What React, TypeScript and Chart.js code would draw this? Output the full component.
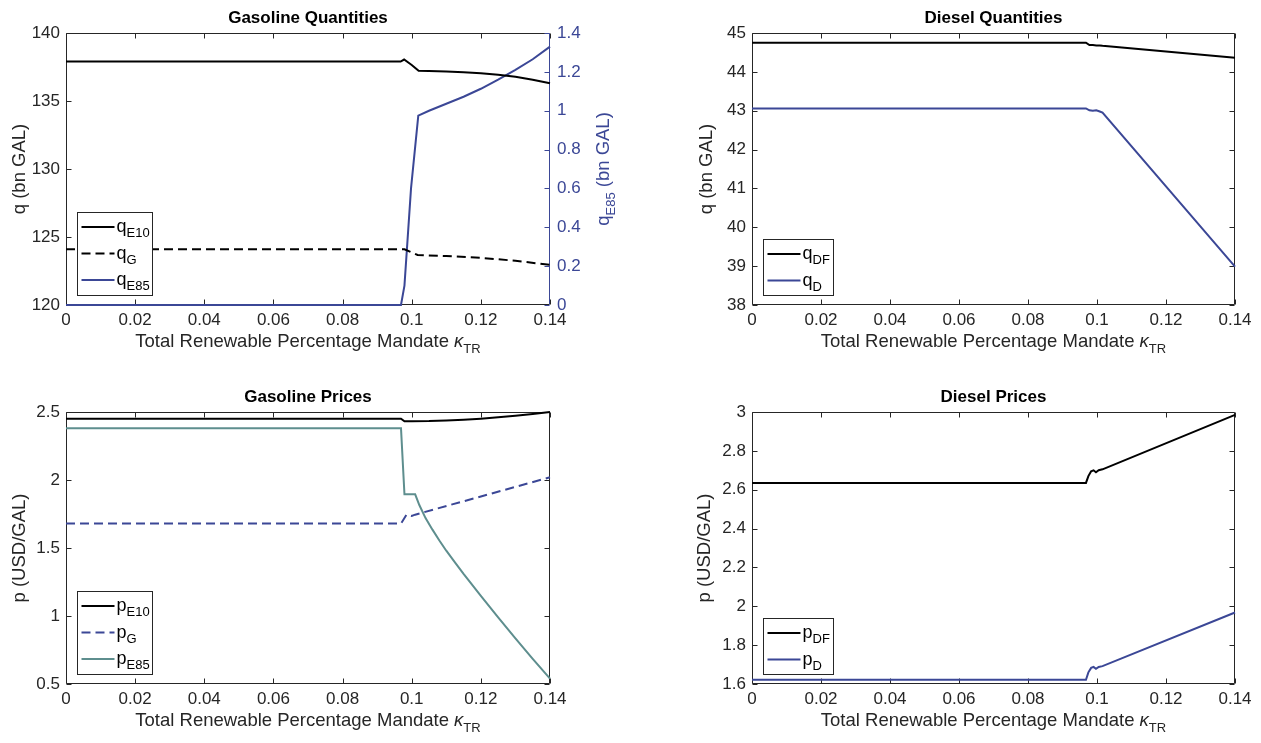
import React, { useEffect, useRef } from "react";
import { Chart, registerables } from "chart.js";

Chart.register(...registerables);

const FONT = '"Liberation Sans", Arial, Helvetica, sans-serif';
const AX = "#262626";
const BLUE = "#3B4796";
const TEAL = "#5E8E8E";
const BLACK = "#000000";
const TICK = 17;
const LABEL = 18.5;
const TITLE = 17;

// ---------- shared x ticks ----------
const kappaTicks = [0, 0.02, 0.04, 0.06, 0.08, 0.1, 0.12, 0.14];

// ---------- Gasoline quantities ----------
const gqTicks = [120, 125, 130, 135, 140];
const gqTicksE85 = [0, 0.2, 0.4, 0.6, 0.8, 1, 1.2, 1.4];
const gqKappaE10 = [0, 0.0968, 0.0978, 0.1, 0.102, 0.105, 0.11, 0.115, 0.12, 0.125, 0.13, 0.135, 0.14];
const qE10 = [137.9, 137.9, 138.05, 137.65, 137.22, 137.2, 137.17, 137.12, 137.04, 136.93, 136.78, 136.57, 136.3];
const gqKappaG = [0, 0.0979, 0.1017, 0.11, 0.12, 0.13, 0.14];
const qG = [124.1, 124.1, 123.68, 123.6, 123.47, 123.25, 122.95];
const gqKappaE85 = [0, 0.0969, 0.0979, 0.0998, 0.1019, 0.105, 0.11, 0.115, 0.12, 0.125, 0.13, 0.135, 0.14];
const qE85 = [0, 0, 0.1, 0.6, 0.975, 1.0, 1.036, 1.072, 1.113, 1.16, 1.21, 1.265, 1.33];

// ---------- Diesel quantities ----------
const dqTicks = [38, 39, 40, 41, 42, 43, 44, 45];
const dqKappa = [0, 0.0968, 0.0978, 0.0988, 0.0998, 0.1008, 0.1016, 0.14];
const qDF = [44.75, 44.75, 44.69, 44.69, 44.68, 44.68, 44.67, 44.36];
const qD = [43.06, 43.06, 43.01, 43.0, 43.01, 42.98, 42.95, 38.99];

// ---------- Gasoline prices ----------
const gpTicks = [0.5, 1, 1.5, 2, 2.5];
const gpKappaE10 = [0, 0.0969, 0.0979, 0.1, 0.105, 0.11, 0.115, 0.12, 0.125, 0.13, 0.135, 0.14];
const pE10 = [2.45, 2.45, 2.432, 2.432, 2.433, 2.437, 2.443, 2.451, 2.461, 2.472, 2.485, 2.5];
const gpKappaG = [0, 0.0969, 0.0985, 0.1, 0.101, 0.14];
const pG = [1.68, 1.68, 1.745, 1.735, 1.745, 2.02];
const gpKappaE85 = [0, 0.0969, 0.0979, 0.101, 0.1022, 0.104, 0.106, 0.108, 0.11, 0.1125, 0.115, 0.12, 0.125, 0.13, 0.135, 0.14];
const pE85 = [2.38, 2.38, 1.895, 1.895, 1.816, 1.72, 1.635, 1.555, 1.48, 1.395, 1.31, 1.148, 0.99, 0.835, 0.685, 0.54];

// ---------- Diesel prices ----------
const dpTicks = [1.6, 1.8, 2, 2.2, 2.4, 2.6, 2.8, 3];
const dpKappa = [0, 0.0968, 0.0975, 0.0983, 0.099, 0.0997, 0.1005, 0.1016, 0.14];
const pDF = [2.635, 2.635, 2.67, 2.695, 2.7, 2.69, 2.7, 2.705, 2.985];
const pD = [1.622, 1.622, 1.66, 1.683, 1.688, 1.678, 1.688, 1.692, 1.968];

type Seg = { text: string; sub?: boolean; italic?: boolean };
type Series = { label: Seg[]; xs: number[]; ys: number[]; color: string; dash?: number[]; axis?: string };
type Spec = {
  left: number; top: number; w: number; h: number;
  plot: { l: number; t: number; r: number; b: number };
  title: string;
  yLabel: Seg[]; yLabelX: number;
  y2Label?: Seg[]; y2LabelX?: number;
  yMin: number; yMax: number; yTicks: number[];
  y2Min?: number; y2Max?: number; y2Ticks?: number[];
  series: Series[];
  legendW: number;
};

const xTitle: Seg[] = [{ text: "Total Renewable Percentage Mandate " }, { text: "\u03BA", italic: true }, { text: "TR", sub: true }];

const fmt = (v: number) => String(Math.round(v * 1000) / 1000);

const segFont = (s: Seg, size: number, sub: number, bold: boolean) =>
  `${s.italic ? "italic " : ""}${bold ? "bold " : ""}${s.sub ? sub : size}px ${FONT}`;

function richWidth(ctx: CanvasRenderingContext2D, segs: Seg[], size: number, sub: number, bold = false) {
  let w = 0;
  for (const s of segs) {
    ctx.font = segFont(s, size, sub, bold);
    w += ctx.measureText(s.text).width;
  }
  return w;
}

function drawRich(ctx: CanvasRenderingContext2D, segs: Seg[], x: number, y: number, align: string, size: number, sub: number, color: string, bold = false) {
  const total = richWidth(ctx, segs, size, sub, bold);
  let cx = align === "center" ? x - total / 2 : x;
  ctx.fillStyle = color;
  ctx.textAlign = "left";
  ctx.textBaseline = "alphabetic";
  for (const s of segs) {
    ctx.font = segFont(s, size, sub, bold);
    ctx.fillText(s.text, cx, y + (s.sub ? size * 0.3 : 0));
    cx += ctx.measureText(s.text).width;
  }
}

function makePlugin(spec: Spec) {
  const hasY2 = !!spec.y2Ticks;
  return {
    id: "matlabFrame",
    beforeDatasetsDraw(chart: any) {
      const ctx: CanvasRenderingContext2D = chart.ctx;
      const a = chart.chartArea;
      const L = Math.round(a.left) + 0.5, R = Math.round(a.right) - 0.5;
      const T = Math.round(a.top) + 0.5, B = Math.round(a.bottom) - 0.5;
      ctx.save();
      ctx.lineWidth = 1;
      ctx.strokeStyle = AX;
      ctx.beginPath();
      ctx.moveTo(R, T); ctx.lineTo(L, T); ctx.lineTo(L, B); ctx.lineTo(R, B);
      if (!hasY2) ctx.lineTo(R, T);
      ctx.stroke();
      const tl = 5;
      const xs = chart.scales.x;
      ctx.beginPath();
      for (const v of kappaTicks) {
        const px = Math.round(xs.getPixelForValue(v)) + 0.5;
        ctx.moveTo(px, B); ctx.lineTo(px, B - tl);
        ctx.moveTo(px, T); ctx.lineTo(px, T + tl);
      }
      const ys = chart.scales.y;
      for (const v of spec.yTicks) {
        const py = Math.round(ys.getPixelForValue(v)) + 0.5;
        ctx.moveTo(L, py); ctx.lineTo(L + tl, py);
        if (!hasY2) { ctx.moveTo(R, py); ctx.lineTo(R - tl, py); }
      }
      ctx.stroke();
      if (hasY2) {
        const y2 = chart.scales.y2;
        ctx.strokeStyle = BLUE;
        ctx.beginPath();
        ctx.moveTo(R, T); ctx.lineTo(R, B);
        for (const v of spec.y2Ticks!) {
          const py = Math.round(y2.getPixelForValue(v)) + 0.5;
          ctx.moveTo(R, py); ctx.lineTo(R - tl, py);
        }
        ctx.stroke();
      }
      ctx.restore();
    },
    afterDraw(chart: any) {
      const ctx: CanvasRenderingContext2D = chart.ctx;
      const a = chart.chartArea;
      const cx = (a.left + a.right) / 2;
      const cy = (a.top + a.bottom) / 2;
      ctx.save();
      drawRich(ctx, [{ text: spec.title }], cx, a.top - 10, "center", TITLE, TITLE, BLACK, true);
      drawRich(ctx, xTitle, cx, a.bottom + 42, "center", LABEL, 13, AX);
      ctx.save();
      ctx.translate(spec.yLabelX - spec.left, cy);
      ctx.rotate(-Math.PI / 2);
      drawRich(ctx, spec.yLabel, 0, 6, "center", LABEL, 13, AX);
      ctx.restore();
      if (spec.y2Label) {
        ctx.save();
        ctx.translate(spec.y2LabelX! - spec.left, cy);
        ctx.rotate(-Math.PI / 2);
        drawRich(ctx, spec.y2Label, 0, 6, "center", LABEL, 13, BLUE);
        ctx.restore();
      }
      const n = spec.series.length;
      const bh = 27 * n + 2;
      const bx = Math.round(a.left + 11) + 0.5;
      const by = Math.round(a.bottom - 10 - bh) + 0.5;
      ctx.fillStyle = "#ffffff";
      ctx.fillRect(bx, by, spec.legendW, bh);
      ctx.strokeStyle = AX;
      ctx.lineWidth = 1;
      ctx.strokeRect(bx, by, spec.legendW, bh);
      spec.series.forEach((s, i) => {
        const ry = by + 14.5 + 26.5 * i;
        ctx.save();
        ctx.strokeStyle = s.color;
        ctx.lineWidth = 2;
        ctx.setLineDash(s.dash || []);
        ctx.beginPath();
        ctx.moveTo(bx + 4, ry); ctx.lineTo(bx + 37, ry);
        ctx.stroke();
        ctx.restore();
        drawRich(ctx, s.label, bx + 39, ry + 5, "left", 18, 13, BLACK);
      });
      ctx.restore();
    },
  };
}

function buildConfig(spec: Spec): any {
  const hasY2 = !!spec.y2Ticks;
  const tickFont = { family: FONT, size: TICK };
  const scales: any = {
    x: {
      type: "linear", position: "bottom", min: 0, max: 0.14,
      grid: { display: false, drawTicks: false }, border: { display: false },
      ticks: { font: tickFont, color: AX, padding: 5, maxRotation: 0, autoSkip: false, callback: (v: number) => fmt(v) },
      afterBuildTicks: (s: any) => { s.ticks = kappaTicks.map((v) => ({ value: v })); },
      afterFit: (s: any) => { s.height = spec.top + spec.h - spec.plot.b; },
    },
    y: {
      type: "linear", position: "left", min: spec.yMin, max: spec.yMax,
      grid: { display: false, drawTicks: false }, border: { display: false },
      ticks: { font: tickFont, color: AX, padding: 6, autoSkip: false, callback: (v: number) => fmt(v) },
      afterBuildTicks: (s: any) => { s.ticks = spec.yTicks.map((v) => ({ value: v })); },
      afterFit: (s: any) => { s.width = spec.plot.l - spec.left; },
    },
  };
  if (hasY2) {
    scales.y2 = {
      type: "linear", position: "right", min: spec.y2Min, max: spec.y2Max,
      grid: { display: false, drawTicks: false }, border: { display: false },
      ticks: { font: tickFont, color: BLUE, padding: 7, autoSkip: false, callback: (v: number) => fmt(v) },
      afterBuildTicks: (s: any) => { s.ticks = spec.y2Ticks!.map((v) => ({ value: v })); },
      afterFit: (s: any) => { s.width = spec.left + spec.w - spec.plot.r; },
    };
  }
  return {
    type: "line",
    data: {
      datasets: spec.series.map((s) => ({
        label: s.label.map((x) => x.text).join(""),
        data: s.xs.map((x, i) => ({ x, y: s.ys[i] })),
        borderColor: s.color,
        backgroundColor: s.color,
        borderWidth: 2,
        borderDash: s.dash || [],
        pointRadius: 0,
        tension: 0,
        fill: false,
        clip: false,
        yAxisID: s.axis || "y",
      })),
    },
    options: {
      responsive: false,
      maintainAspectRatio: false,
      animation: false,
      devicePixelRatio: 1,
      events: [],
      layout: {
        padding: {
          left: 0,
          top: spec.plot.t - spec.top,
          right: hasY2 ? 0 : spec.left + spec.w - spec.plot.r,
          bottom: 0,
        },
      },
      plugins: { legend: { display: false }, tooltip: { enabled: false }, title: { display: false } },
      scales,
    },
    plugins: [makePlugin(spec)],
  };
}

const DASH = [9, 5];

const specs: Spec[] = [
  {
    left: 0, top: 0, w: 630, h: 372,
    plot: { l: 66, t: 33, r: 550, b: 305 },
    title: "Gasoline Quantities",
    yLabel: [{ text: "q (bn GAL)" }], yLabelX: 19,
    y2Label: [{ text: "q" }, { text: "E85", sub: true }, { text: " (bn GAL)" }], y2LabelX: 603,
    yMin: 120, yMax: 140, yTicks: gqTicks,
    y2Min: 0, y2Max: 1.4, y2Ticks: gqTicksE85,
    legendW: 75,
    series: [
      { label: [{ text: "q" }, { text: "E10", sub: true }], xs: gqKappaE10, ys: qE10, color: BLACK },
      { label: [{ text: "q" }, { text: "G", sub: true }], xs: gqKappaG, ys: qG, color: BLACK, dash: DASH },
      { label: [{ text: "q" }, { text: "E85", sub: true }], xs: gqKappaE85, ys: qE85, color: BLUE, axis: "y2" },
    ],
  },
  {
    left: 630, top: 0, w: 631, h: 372,
    plot: { l: 752, t: 33, r: 1235, b: 305 },
    title: "Diesel Quantities",
    yLabel: [{ text: "q (bn GAL)" }], yLabelX: 706,
    yMin: 38, yMax: 45, yTicks: dqTicks,
    legendW: 70,
    series: [
      { label: [{ text: "q" }, { text: "DF", sub: true }], xs: dqKappa, ys: qDF, color: BLACK },
      { label: [{ text: "q" }, { text: "D", sub: true }], xs: dqKappa, ys: qD, color: BLUE },
    ],
  },
  {
    left: 0, top: 372, w: 630, h: 371,
    plot: { l: 66, t: 412, r: 550, b: 684 },
    title: "Gasoline Prices",
    yLabel: [{ text: "p (USD/GAL)" }], yLabelX: 19,
    yMin: 0.5, yMax: 2.5, yTicks: gpTicks,
    legendW: 75,
    series: [
      { label: [{ text: "p" }, { text: "E10", sub: true }], xs: gpKappaE10, ys: pE10, color: BLACK },
      { label: [{ text: "p" }, { text: "G", sub: true }], xs: gpKappaG, ys: pG, color: BLUE, dash: DASH },
      { label: [{ text: "p" }, { text: "E85", sub: true }], xs: gpKappaE85, ys: pE85, color: TEAL },
    ],
  },
  {
    left: 630, top: 372, w: 631, h: 371,
    plot: { l: 752, t: 412, r: 1235, b: 684 },
    title: "Diesel Prices",
    yLabel: [{ text: "p (USD/GAL)" }], yLabelX: 704,
    yMin: 1.6, yMax: 3, yTicks: dpTicks,
    legendW: 70,
    series: [
      { label: [{ text: "p" }, { text: "DF", sub: true }], xs: dpKappa, ys: pDF, color: BLACK },
      { label: [{ text: "p" }, { text: "D", sub: true }], xs: dpKappa, ys: pD, color: BLUE },
    ],
  },
];

function Panel({ spec }: { spec: Spec }) {
  const ref = useRef<HTMLCanvasElement>(null);
  useEffect(() => {
    const chart = new Chart(ref.current as HTMLCanvasElement, buildConfig(spec));
    return () => chart.destroy();
  }, [spec]);
  return (
    <canvas
      ref={ref}
      width={spec.w}
      height={spec.h}
      style={{ position: "absolute", left: spec.left, top: spec.top, width: spec.w, height: spec.h }}
    />
  );
}

export default function App() {
  return (
    <div style={{ position: "absolute", left: 0, top: 0, width: 1261, height: 743, background: "#ffffff", overflow: "hidden" }}>
      {specs.map((s, i) => (
        <Panel key={i} spec={s} />
      ))}
    </div>
  );
}
